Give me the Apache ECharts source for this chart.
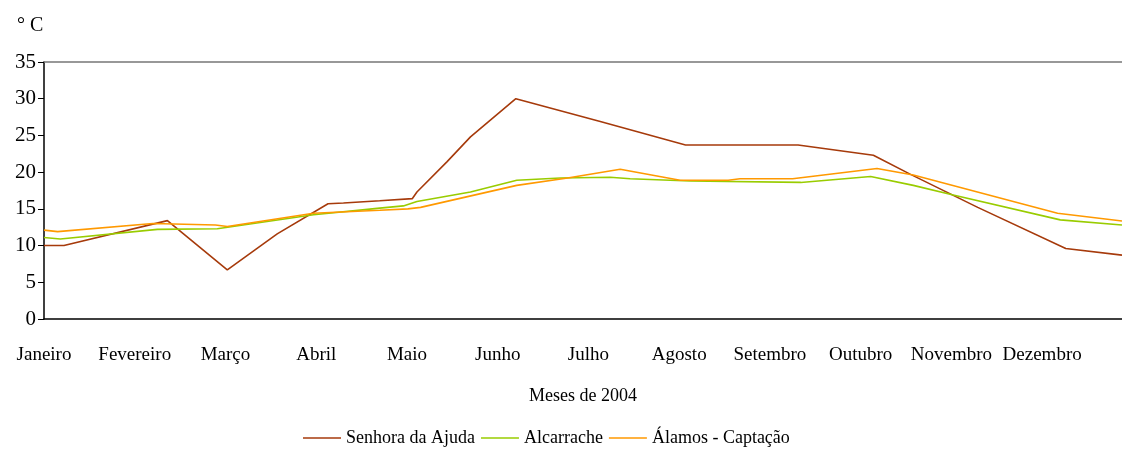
<!DOCTYPE html>
<html>
<head>
<meta charset="utf-8">
<script src="https://cdn.jsdelivr.net/npm/echarts@6/dist/echarts.min.js"></script>
<style>
  html, body { margin: 0; padding: 0; background: #fff; }
  #chart { width: 1122px; height: 449px; }
</style>
</head>
<body>
<div id="chart"></div>
<script>
// month labels (x position = months since 1 Jan)
var months = ['Janeiro', 'Fevereiro', 'Março', 'Abril', 'Maio', 'Junho', 'Julho',
  'Agosto', 'Setembro', 'Outubro', 'Novembro', 'Dezembro'];
var yTicks = [0, 5, 10, 15, 20, 25, 30, 35];

// Senhora da Ajuda
var ajudaX = [0, 0.22, 1.36, 2.02, 2.57, 3.13, 3.30, 3.70, 4.06, 4.11, 4.44, 4.70, 5.20, 6.13, 7.07, 8.31, 9.14, 9.55, 10.29, 11.26, 11.88];
var ajudaY = [10.0, 10.0, 13.4, 6.7, 11.6, 15.7, 15.8, 16.1, 16.4, 17.3, 21.4, 24.8, 30.0, 26.9, 23.7, 23.7, 22.3, 19.7, 15.2, 9.6, 8.7];

// Alcarrache
var alcX = [0, 0.18, 1.25, 1.91, 2.97, 3.70, 3.96, 4.11, 4.70, 5.21, 5.69, 6.24, 6.46, 7.12, 8.34, 9.11, 9.58, 10.02, 11.20, 11.88];
var alcY = [11.1, 10.9, 12.2, 12.3, 14.2, 15.1, 15.4, 16.0, 17.3, 18.9, 19.2, 19.3, 19.1, 18.8, 18.6, 19.4, 18.2, 16.9, 13.5, 12.8];

// Álamos - Captação
var alamosX = [0, 0.15, 1.20, 1.89, 2.02, 2.97, 3.70, 4.01, 4.15, 5.21, 5.77, 6.35, 7.01, 7.54, 7.67, 8.25, 9.18, 9.58, 11.17, 11.88];
var alamosY = [12.1, 11.9, 13.0, 12.8, 12.6, 14.4, 14.8, 15.0, 15.2, 18.2, 19.2, 20.4, 18.9, 18.9, 19.1, 19.1, 20.5, 19.6, 14.4, 13.35];

function pairs(xs, ys) {
  return xs.map(function (x, i) { return [x, ys[i]]; });
}

var chart = echarts.init(document.getElementById('chart'));
var font = 'Liberation Serif';

var option = {
  animation: false,
  backgroundColor: '#fff',
  textStyle: { fontFamily: font },
  graphic: [{
    type: 'text',
    left: 17,
    top: 16,
    style: { text: '° C', font: '20px "Liberation Serif"', fill: '#000' }
  }],
  grid: { left: 44, right: 0, top: 62, bottom: 130 },
  legend: {
    left: 298,
    top: 424,
    icon: 'rect',
    itemWidth: 38,
    itemHeight: 1.5,
    itemGap: 6,
    textStyle: { fontFamily: font, fontSize: 18, color: '#000', lineHeight: 18 },
    data: ['Senhora da Ajuda', 'Alcarrache', 'Álamos - Captação']
  },
  xAxis: [{
    type: 'value',
    min: 0,
    max: 11.88,
    interval: 1,
    name: 'Meses de 2004',
    nameLocation: 'middle',
    nameGap: 68,
    nameTextStyle: { fontFamily: font, fontSize: 18, color: '#000' },
    axisLine: { show: true, lineStyle: { color: '#000', width: 1.5 } },
    axisTick: { show: false },
    splitLine: { show: false },
    axisLabel: {
      fontFamily: font, fontSize: 19, color: '#000', margin: 27,
      showMaxLabel: false,
      formatter: function (v) { return months[Math.round(v)] || ''; }
    }
  }, {
    type: 'value',
    position: 'top',
    min: 0,
    max: 11.88,
    axisLine: { show: true, lineStyle: { color: '#777', width: 1.5 } },
    axisTick: { show: false },
    axisLabel: { show: false },
    splitLine: { show: false }
  }],
  yAxis: {
    type: 'value',
    min: yTicks[0],
    max: yTicks[yTicks.length - 1],
    interval: 5,
    axisLine: { show: true, lineStyle: { color: '#000', width: 1.5 } },
    axisTick: { show: true, length: 6, lineStyle: { color: '#000' } },
    splitLine: { show: false },
    axisLabel: { fontFamily: font, fontSize: 21, color: '#000', margin: 8 }
  },
  series: [{
    name: 'Senhora da Ajuda',
    type: 'line',
    symbol: 'none',
    color: '#A63A0B',
    lineStyle: { width: 1.6 },
    data: pairs(ajudaX, ajudaY)
  }, {
    name: 'Alcarrache',
    type: 'line',
    symbol: 'none',
    color: '#99CC00',
    lineStyle: { width: 1.6 },
    data: pairs(alcX, alcY)
  }, {
    name: 'Álamos - Captação',
    type: 'line',
    symbol: 'none',
    color: '#FF9900',
    lineStyle: { width: 1.6 },
    data: pairs(alamosX, alamosY)
  }]
};

chart.setOption(option);
</script>
</body>
</html>
